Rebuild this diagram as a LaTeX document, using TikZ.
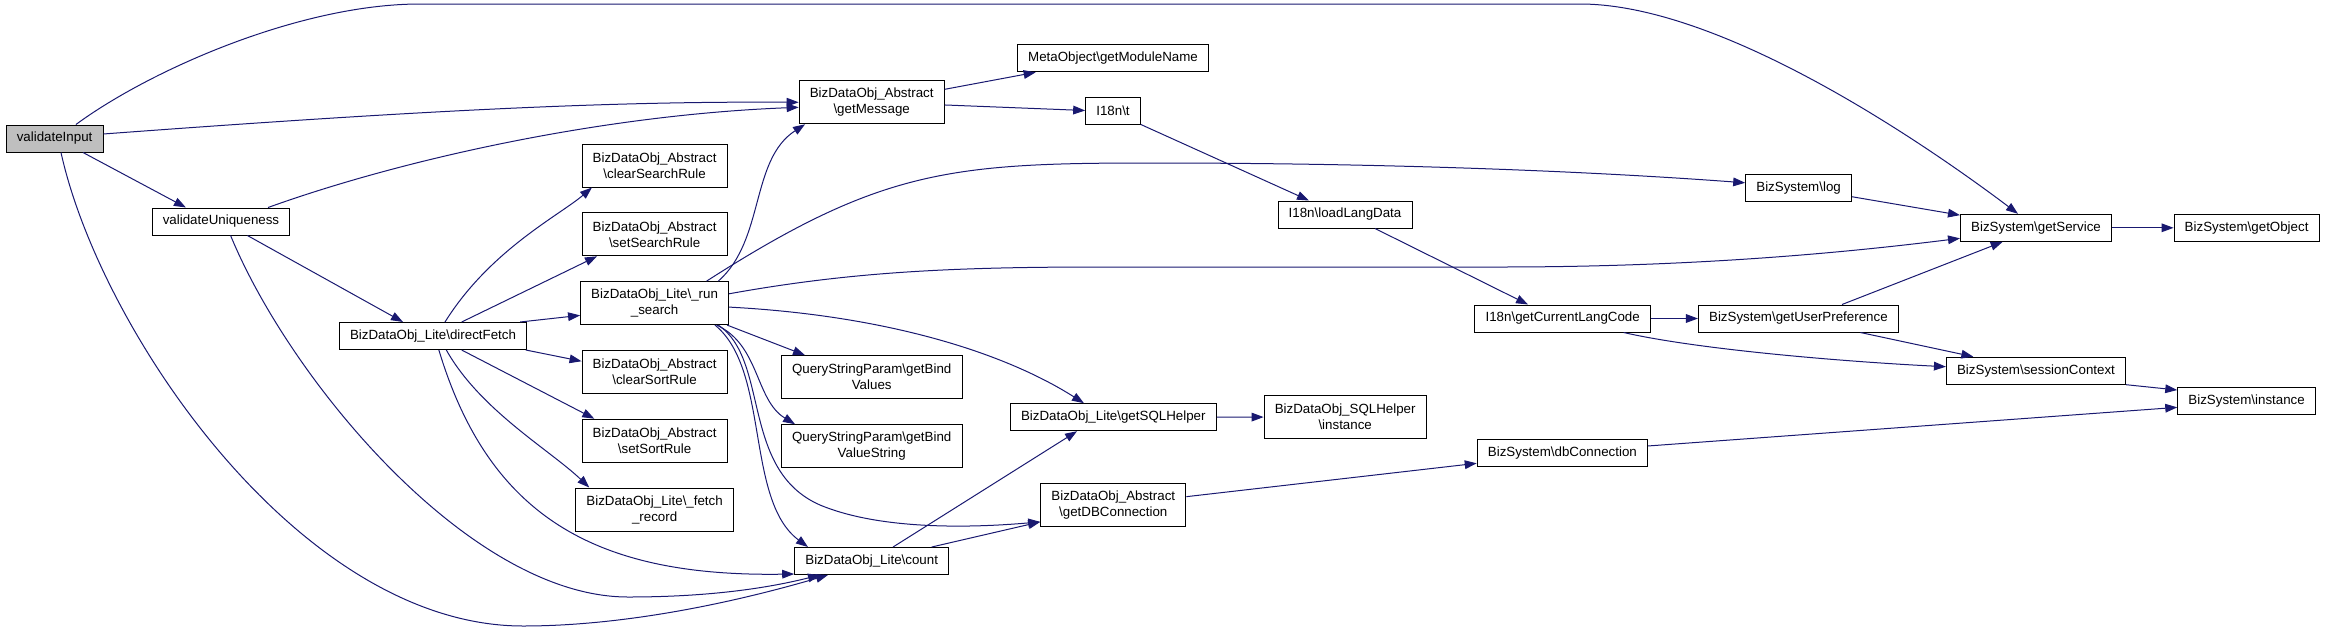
\documentclass[tikz,border=0pt]{standalone}
\usepackage{fontspec}
\setmainfont{Liberation Sans}
\usepackage{xcolor}
\usetikzlibrary{arrows.meta,positioning}
\definecolor{dxedge}{RGB}{25,25,112}
\definecolor{dxroot}{RGB}{191,191,191}
\newcommand{\bsl}{\textbackslash}

\begin{document}
\begin{tikzpicture}[x=0.75pt,y=-0.75pt,>={Triangle[length=9pt,width=6.5pt]},
  font=\fontsize{10}{12}\selectfont,
  fn/.style={draw=black,line width=0.75pt,fill=white,inner xsep=8pt,inner ysep=2pt,minimum height=20.25pt},
  fntwo/.style={fn,align=center,minimum height=32.25pt},
  call/.style={->,dxedge,line width=0.75pt}]
  \useasboundingbox (0,0) rectangle (2325,633);
  % callers
  \node[fn,fill=dxroot] (vin) at (54.6,138.5) {validateInput};
  \node[fn] (vuniq) at (221,221.5) {validateUniqueness};
  \node[fn] (dfetch) at (433,336) {BizDataObj\_Lite\bsl directFetch};
  % column of directFetch callees
  \node[fntwo] (csr) at (654.6,165.5) {BizDataObj\_Abstract\\\bsl clearSearchRule};
  \node[fntwo,below=18.6pt of csr] (ssr) {BizDataObj\_Abstract\\\bsl setSearchRule};
  \node[fntwo,below=18.6pt of ssr] (rsearch) {BizDataObj\_Lite\bsl\_run\\\_search};
  \node[fntwo,below=18.6pt of rsearch] (csort) {BizDataObj\_Abstract\\\bsl clearSortRule};
  \node[fntwo,below=18.6pt of csort] (ssort) {BizDataObj\_Abstract\\\bsl setSortRule};
  \node[fntwo,below=18.6pt of ssort] (frec) {BizDataObj\_Lite\bsl\_fetch\\\_record};
  % next column
  \node[fntwo] (gmsg) at (871.7,102.3) {BizDataObj\_Abstract\\\bsl getMessage};
  \node[fntwo] (gbv) at (871.7,377.2) {QueryStringParam\bsl getBind\\Values};
  \node[fntwo,below=18.75pt of gbv] (gbvs) {QueryStringParam\bsl getBind\\ValueString};
  \node[fn] (count) at (871.7,561) {BizDataObj\_Lite\bsl count};
  \node[fn] (modname) at (1113,58.3) {MetaObject\bsl getModuleName};
  \node[fn] (i18t) at (1113,110.5) {I18n\bsl t};
  \node[fn] (sqlh) at (1113.3,417.2) {BizDataObj\_Lite\bsl getSQLHelper};
  \node[fntwo] (gdb) at (1113.3,505.2) {BizDataObj\_Abstract\\\bsl getDBConnection};
  \node[fn] (lld) at (1345,214.5) {I18n\bsl loadLangData};
  \node[fntwo] (sqli) at (1345.2,417) {BizDataObj\_SQLHelper\\\bsl instance};
  \node[fn] (clc) at (1562.7,318.5) {I18n\bsl getCurrentLangCode};
  \node[fn] (dbc) at (1562.4,453.3) {BizSystem\bsl dbConnection};
  \node[fn] (log) at (1798.6,187.8) {BizSystem\bsl log};
  \node[fn] (gup) at (1798.4,318.5) {BizSystem\bsl getUserPreference};
  \node[fn] (gsvc) at (2036,227.8) {BizSystem\bsl getService};
  \node[fn] (sctx) at (2036,370.7) {BizSystem\bsl sessionContext};
  \node[fn] (gobj) at (2246.6,227.8) {BizSystem\bsl getObject};
  \node[fn] (binst) at (2246.6,401.2) {BizSystem\bsl instance};

  % validateInput
  \draw[call] ([xshift=16pt]vin.north) .. controls (150,70) and (300,4) .. (420,4) -- (1580,4)
    .. controls (1720,4) and (1920,140) .. ([xshift=-13.5pt]gsvc.north);
  \draw[call] ([yshift=3.4pt]vin.east) .. controls (400,112) and (600,101) .. (gmsg.west);
  \draw[call] ([xshift=21.3pt]vin.south) -- ([xshift=-26.3pt]vuniq.north);
  \draw[call] ([xshift=4.8pt]vin.south) .. controls (100,330) and (300,626) .. (523,626)
    .. controls (640,626) and (760,595) .. ([xshift=-32.8pt]count.south);
  % validateUniqueness
  \draw[call] ([xshift=35.3pt]vuniq.north) .. controls (400,160) and (600,115) .. ([yshift=-3.75pt]gmsg.west);
  \draw[call] ([xshift=19.8pt]vuniq.south) -- ([xshift=-22.5pt]dfetch.north);
  \draw[call] ([xshift=7.2pt]vuniq.south) .. controls (290,380) and (470,597) .. (628,597)
    .. controls (700,597) and (760,590) .. ([xshift=-38.8pt]count.south);
  % directFetch
  \draw[call] ([xshift=9pt]dfetch.north) .. controls (490,250) and (560,215) .. ([xshift=-47pt]csr.south);
  \draw[call] ([xshift=21.5pt]dfetch.north) -- ([xshift=-43.2pt]ssr.south);
  \draw[call] ([xshift=65.3pt]dfetch.north) -- ([yshift=-9.2pt]rsearch.west);
  \draw[call] ([xshift=-1pt]dfetch.south east) -- ([yshift=8pt]csort.west);
  \draw[call] ([xshift=21.5pt]dfetch.south) -- ([xshift=-45.2pt]ssort.north);
  \draw[call] ([xshift=10pt]dfetch.south) .. controls (480,410) and (550,450) .. ([xshift=-49pt]frec.north);
  \draw[call] ([xshift=4.4pt]dfetch.south) .. controls (490,520) and (600,577) .. ([yshift=-9.75pt]count.west);
  % _run_search
  \draw[call] ([xshift=47.8pt]rsearch.north) .. controls (765,240) and (750,160) .. ([xshift=-50pt]gmsg.south);
  \draw[call] ([xshift=39pt]rsearch.north) .. controls (880,170) and (950,163) .. (1150,163)
    .. controls (1400,163) and (1600,172) .. ([yshift=3.75pt]log.west);
  \draw[call] ([yshift=7pt]rsearch.east) .. controls (850,272) and (950,267) .. (1100,267) -- (1500,267)
    .. controls (1700,267) and (1850,252) .. ([yshift=-7.9pt]gsvc.west);
  \draw[call] ([yshift=-3pt]rsearch.east) .. controls (880,315) and (1000,350) .. ([xshift=-22pt]sqlh.north);
  \draw[call] ([xshift=-1.5pt]rsearch.south east) -- ([xshift=-50pt]gbv.north);
  \draw[call] ([xshift=46.5pt]rsearch.south) .. controls (760,345) and (755,400) .. ([xshift=-57.5pt]gbvs.north);
  \draw[call] ([xshift=47.8pt]rsearch.south) .. controls (770,360) and (740,470) .. (820,505)
    .. controls (880,530) and (970,528) .. ([yshift=4pt]gdb.south west);
  \draw[call] ([xshift=45.3pt]rsearch.south) .. controls (770,370) and (745,500) .. ([xshift=-47.8pt]count.north);
  % count, getMessage
  \draw[call] ([xshift=16pt]count.north) -- ([xshift=-27.2pt]sqlh.south);
  \draw[call] ([xshift=45pt]count.north) -- ([yshift=4pt]gdb.south west);
  \draw[call] ([yshift=9.75pt]gmsg.east) -- ([xshift=-58pt]modname.south);
  \draw[call] ([yshift=-2pt]gmsg.east) -- (i18t.west);
  % I18n and BizSystem
  \draw[call] (i18t.south east) -- ([xshift=-27pt]lld.north);
  \draw[call] ([xshift=22.5pt]lld.south) -- ([xshift=-26pt]clc.north);
  \draw[call] ([xshift=45.7pt]clc.south) .. controls (1700,350) and (1850,362) .. ([yshift=3pt]sctx.west);
  \draw[call] ([xshift=32.7pt]gup.north) -- ([xshift=-25pt]gsvc.south);
  \draw[call] ([xshift=46.5pt]gup.south) -- ([xshift=-47pt]sctx.north);
  \draw[call] ([yshift=-6.7pt]log.east) -- ([yshift=-1pt]gsvc.north west);
  \draw[call] (sctx.south east) -- ([yshift=8.4pt]binst.west);
  \draw[call] ([yshift=5.5pt]dbc.east) -- ([yshift=-4.6pt]binst.west);
  \draw[call] ([yshift=6.4pt]gdb.east) -- ([yshift=-7.5pt]dbc.west);
  \foreach \from/\to in {clc/gup,gsvc/gobj,sqlh/sqli}
    \draw[call] (\from) -- (\to);
\end{tikzpicture}
\end{document}
